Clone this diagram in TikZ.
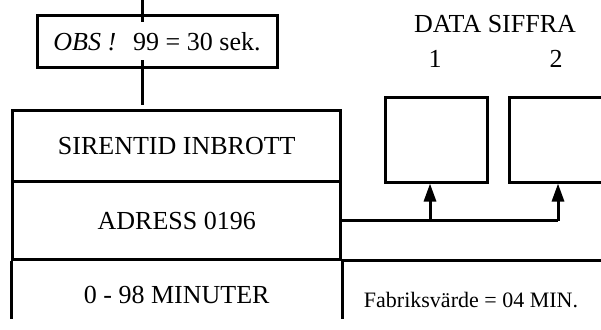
\documentclass[tikz,border=0pt]{standalone}
\usepackage{fontspec}
\setmainfont{Liberation Serif}
\usetikzlibrary{arrows.meta}
\def\bigtext{\fontsize{26}{30}\selectfont}
\def\smalltext{\fontsize{22}{26}\selectfont}
\tikzset{rowbox/.style={draw, minimum width=328pt, inner sep=0pt, font=\bigtext},
      rowtext/.style={minimum width=328pt, inner sep=0pt, font=\bigtext},
      digitbox/.style={draw, minimum width=102pt, minimum height=85pt, inner sep=0pt},
      feed/.style={-{Triangle[length=18pt,width=12pt]}}}

\begin{document}
\begin{tikzpicture}[x=1pt,y=-1pt,line width=3pt]
    \clip (0,0) rectangle (601,329);
    % note box on the incoming wire
    \node[draw, minimum width=240pt, minimum height=51pt, inner sep=0pt, font=\bigtext]
      (obs) at (157,41.5) {\textit{OBS !}\hspace{17pt}99 = 30 sek.};
    \coordinate (w1) at (142,0);
    \coordinate (w2) at (142,22);
    \coordinate (w3) at (142,60);
    \coordinate (w4) at (142,105);
    \draw (w1) -- (w2);
    \draw (w3) -- (w4);
    % register table
    \node[rowbox, minimum height=71.7pt] (sirentid) at (176.75,145.85) {SIRENTID INBROTT};
    \node[rowbox, minimum height=77.6pt] (adress) at (176.75,220.5) {ADRESS 0196};
    \node[rowtext, minimum height=40pt] (minuter) at (176.75,295) {0 - 98 MINUTER};
    \coordinate (base) at (0,319);
    \coordinate (edge) at (610,0);
    \draw (adress.south west) -- (adress.south west |- base);
    \draw (adress.south east) -- (adress.south east |- base);
    \draw (adress.south east) -- (adress.south east -| edge);
    \node[font=\smalltext] (fabrik) at (471,300) {Fabriksvärde = 04 MIN.};
    % data digits
    \node[font=\bigtext] (siffra) at (495,24) {DATA SIFFRA};
    \node[font=\bigtext] (one) at (435,59) {1};
    \node[font=\bigtext] (two) at (556,59) {2};
    \node[digitbox] (d1) at (436,139.5) {};
    \node[digitbox] (d2) at (560,139.5) {};
    \coordinate (j1) at (430,220.5);
    \coordinate (j2) at (558,220.5);
    \draw (adress.east) -- (j2);
    \draw[feed] (j1) -- (j1 |- d1.south);
    \draw[feed] (j2) -- (j2 |- d2.south);
\end{tikzpicture}
\end{document}
